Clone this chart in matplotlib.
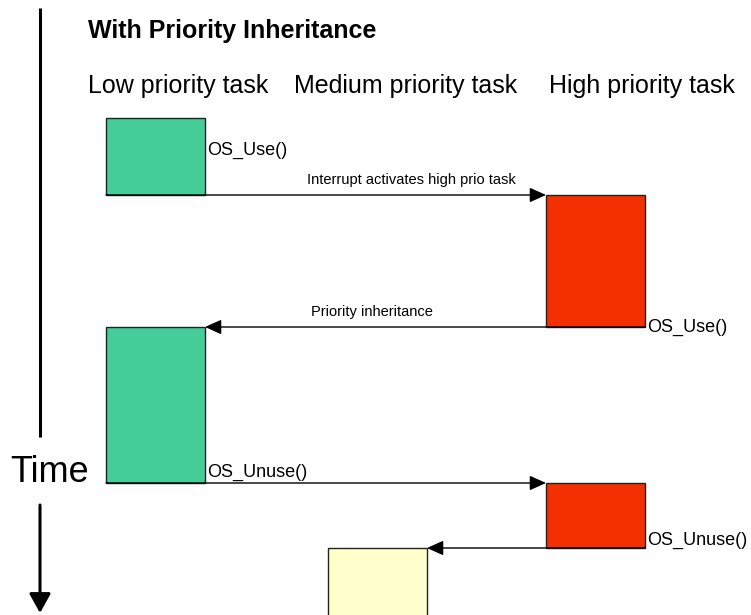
import matplotlib
matplotlib.use("Agg")
from matplotlib import pyplot as plt
from matplotlib.patches import Rectangle

plt.rcParams['font.family'] = ['Liberation Sans', 'DejaVu Sans']

TITLE = "With Priority Inheritance"
TASKS = ["Low priority task", "Medium priority task", "High priority task"]

# execution segments: which task runs, from when to when (time grows downwards)
SEG_TASK = [0, 2, 0, 2, 1]
SEG_START = [118, 195, 327, 483, 548]
SEG_END = [195, 327, 483, 548, 640]
SEG_CALL = ["OS_Use()", "OS_Use()", "OS_Unuse()", "OS_Unuse()", ""]

# label on the switch arrow that leaves each segment
SWITCH_LABELS = ["Interrupt activates high prio task", "Priority inheritance", "", ""]

TASK_COLORS = ["#44cc99", "#ffffcc", "#f53000"]

# layout of the lanes
LANE_LEFT = [106, 328, 546]
LANE_WIDTH = 99
HEADER_X = [88, 294, 549]
CALL_RAISE = [40, 0, 6, 3, 0]


def draw(ax):
    ax.text(88, 38, TITLE, fontsize=18, fontweight="bold", va="baseline")
    for name, x in zip(TASKS, HEADER_X):
        ax.text(x, 93, name, fontsize=18, va="baseline")

    # time axis
    ax.plot([40, 40], [8, 437], color="black", lw=2.2, solid_capstyle="butt")
    ax.annotate("", xy=(40, 613), xytext=(40, 505),
                arrowprops=dict(arrowstyle="-|>,head_length=0.45,head_width=0.25",
                                mutation_scale=26, lw=2.2, color="black",
                                shrinkA=0, shrinkB=0))
    ax.text(10, 482, "Time", fontsize=26, va="baseline")

    for i, task in enumerate(SEG_TASK):
        left = LANE_LEFT[task]
        top, bottom = SEG_START[i], SEG_END[i]
        ax.add_patch(Rectangle((left, top), LANE_WIDTH, bottom - top,
                               facecolor=TASK_COLORS[task], edgecolor="#222222",
                               lw=1.0, zorder=2))
        if SEG_CALL[i]:
            ax.text(left + LANE_WIDTH + 2, bottom - CALL_RAISE[i] + (5 if i == 1 else 0),
                    SEG_CALL[i], fontsize=13, va="baseline")

        if i + 1 < len(SEG_TASK):
            nxt = SEG_TASK[i + 1]
            y = bottom
            if LANE_LEFT[nxt] > left:
                # rightwards: line runs along the box bottom
                start, x0, x1 = left, left + LANE_WIDTH, LANE_LEFT[nxt]
                shift = 36
            else:
                start, x0, x1 = left + LANE_WIDTH, left, LANE_LEFT[nxt] + LANE_WIDTH
                shift = -4
            ax.annotate("", xy=(x1, y), xytext=(start, y),
                        arrowprops=dict(arrowstyle="-|>,head_length=0.4,head_width=0.18",
                                        mutation_scale=25, lw=1.0, color="black",
                                        shrinkA=0, shrinkB=0), zorder=3)
            if SWITCH_LABELS[i]:
                ax.text((x0 + x1) / 2 + shift, y - 11, SWITCH_LABELS[i],
                        fontsize=10.5, ha="center", va="baseline")


def main():
    fig = plt.figure(figsize=(7.51, 6.15), dpi=100)
    ax = fig.add_axes([0, 0, 1, 1])
    ax.set_xlim(0, 751)
    ax.set_ylim(615, 0)
    ax.axis("off")
    draw(ax)
    fig.savefig("out.png", dpi=100)


if __name__ == '__main__': main()
